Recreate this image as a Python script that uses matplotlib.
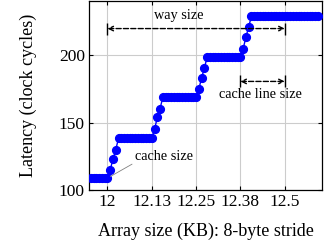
import numpy as np
import matplotlib
matplotlib.use('Agg')
import matplotlib.pyplot as plt

plt.rcParams['font.family'] = ['Liberation Serif', 'DejaVu Serif']

# array sizes in bytes, 8-byte stride
sizes_bytes = np.arange(12240, 12904, 8)
# measured latency (clock cycles)
latency = ([109] * 7 + [115, 123, 130]
           + [138.5] * 13 + [145, 154, 160.5]
           + [169] * 13 + [175, 183.5, 190.5]
           + [199] * 13 + [205, 213.5, 221.5]
           + [229] * 25)
xticks = [12, 12.125, 12.25, 12.375, 12.5]
xtick_labels = ['12', '12.13', '12.25', '12.38', '12.5']
yticks = [100, 150, 200]

size_kb = sizes_bytes / 1024

fig = plt.figure(figsize=(3.36, 2.48), dpi=100)
ax = fig.add_axes([0.265, 0.234, 0.693, 0.762])

ax.plot(size_kb, latency, color='#0000ff', marker='o', markersize=5.6, lw=1, zorder=3)

ax.set_xlim(11.948, 12.605)
ax.set_ylim(100, 240.5)
ax.set_xticks(xticks)
ax.set_xticklabels(xtick_labels)
ax.set_yticks(yticks)
ax.grid(True, color='#cccccc', lw=0.8)
ax.set_axisbelow(True)
ax.tick_params(direction='in', top=True, right=True, length=3, labelsize=12.5, pad=3)
for s in ax.spines.values():
    s.set_linewidth(0.9)

ax.set_xlabel('Array size (KB): 8-byte stride', fontsize=13, labelpad=9)
ax.set_ylabel('Latency (clock cycles)', fontsize=13, labelpad=16)


def span_arrow(x0, x1, y):
    ax.annotate('', xy=(x0, y), xytext=(x1, y),
                arrowprops=dict(arrowstyle='<->', linestyle='--', lw=1, color='black',
                                shrinkA=0, shrinkB=0, mutation_scale=8))
    ax.plot([x0, x1], [y, y], ls='none', marker='|', ms=9, mew=1, color='black')


# way size
span_arrow(12, 12.5, 220)
ax.text(12.2, 230, 'way size', fontsize=10.3, ha='center', va='center')

# cache line size
span_arrow(12.375, 12.5, 180.7)
ax.text(12.431, 171, 'cache line size', fontsize=10.3, ha='center', va='center')

# cache size
ax.annotate('cache size', xy=(12.008, 110), xytext=(12.159, 125.2),
            fontsize=10.3, ha='center', va='center',
            arrowprops=dict(arrowstyle='-', color='gray', lw=0.6,
                            shrinkA=0, shrinkB=0,
                            relpos=(0.0, 0.0)))

fig.savefig('out.png', dpi=100)
